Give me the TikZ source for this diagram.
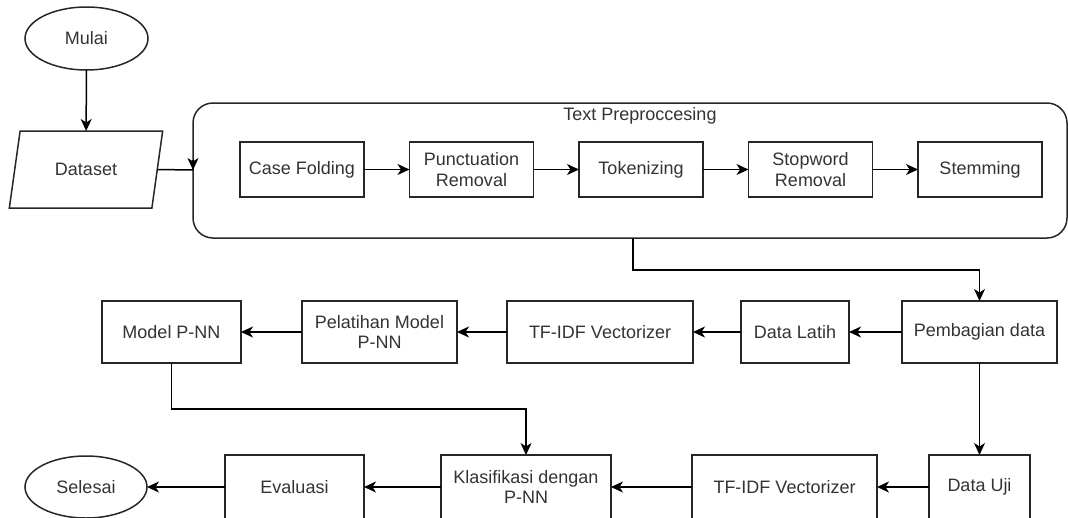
\documentclass[tikz,border=0pt]{standalone}
\usepackage{fontspec}
\setmainfont{Liberation Sans}
\usetikzlibrary{shapes.geometric,arrows.meta,calc}
\begin{document}
\begin{tikzpicture}[x=1pt,y=-1pt,
  every node/.style={font=\fontsize{18}{20.5}\selectfont, text=black!80, align=center, inner sep=0pt, outer sep=0pt},
  box/.style={draw=black!85, line width=1.5pt, rectangle},
  term/.style={draw=black!85, line width=1.5pt, ellipse},
  io/.style={draw=black!85, line width=1.5pt, trapezium, trapezium left angle=68, trapezium right angle=112, trapezium stretches=true},
  container/.style={draw=black!85, line width=1.5pt, rectangle, rounded corners=20pt},
  conn/.style={draw=black, line width=1.5pt},
  arr/.style={conn, -{Stealth[length=12pt,width=11pt,inset=3.5pt]}}
]
\useasboundingbox (0,0) rectangle (1068,517);
% top section
\node[term, minimum width=123pt, minimum height=63pt] (mulai) at (86.5,38.5) {Mulai};
\node[io, minimum width=154pt, minimum height=77pt] (dataset) at (86,169.5) {Dataset};
\node[container, minimum width=874pt, minimum height=135pt] (prep) at (630,170.5) {};
\node (preplabel) at (640,116) {Text Preproccesing};
\node[box, minimum width=124pt, minimum height=55pt] (casefold) at (302,169.5) {Case Folding};
\node[box, minimum width=124pt, minimum height=55pt] (punct) at (471.5,169.5) {Punctuation\\Removal};
\node[box, minimum width=124pt, minimum height=55pt] (token) at (641,169.5) {Tokenizing};
\node[box, minimum width=124pt, minimum height=55pt] (stop) at (810.5,169.5) {Stopword\\Removal};
\node[box, minimum width=124pt, minimum height=55pt] (stem) at (980,169.5) {Stemming};
% row 2
\node[box, minimum width=139pt, minimum height=62pt] (model) at (171.5,332) {Model P-NN};
\node[box, minimum width=155pt, minimum height=62pt] (pelat) at (379.5,332) {Pelatihan Model\\P-NN};
\node[box, minimum width=186pt, minimum height=62pt] (tfidfa) at (600,332) {TF-IDF Vectorizer};
\node[box, minimum width=108pt, minimum height=62pt] (latih) at (795,332) {Data Latih};
\node[box, minimum width=155pt, minimum height=62pt] (pemb) at (979.5,332) {Pembagian data};
% row 3
\node[term, minimum width=122pt, minimum height=62pt] (selesai) at (86,487) {Selesai};
\node[box, minimum width=139pt, minimum height=64pt] (eval) at (294.5,487) {Evaluasi};
\node[box, minimum width=170pt, minimum height=64pt] (klas) at (526,487) {Klasifikasi dengan\\P-NN};
\node[box, minimum width=185pt, minimum height=64pt] (tfidfb) at (784.5,487) {TF-IDF Vectorizer};
\node[box, minimum width=101pt, minimum height=64pt] (uji) at (979.5,487) {Data Uji};
% helper coordinates
\coordinate (c1) at (193,170);
\coordinate (j1) at (633,270);
\coordinate (j2) at (350,409);
% connectors
\draw[arr] (mulai) -- (dataset);
\draw[conn] (dataset.east) -- (c1);
\draw[arr] ([yshift=10pt]c1) -- (c1);
\draw[arr] (casefold) -- (punct);
\draw[arr] (punct) -- (token);
\draw[arr] (token) -- (stop);
\draw[arr] (stop) -- (stem);
\draw[arr] (prep.south -| j1) |- (j1) -| (pemb.north);
\draw[arr] (pemb) -- (latih);
\draw[arr] (latih) -- (tfidfa);
\draw[arr] (tfidfa) -- (pelat);
\draw[arr] (pelat) -- (model);
\draw[arr] (model.south) |- (j2) -| (klas.north);
\draw[arr] (pemb) -- (uji);
\draw[arr] (uji) -- (tfidfb);
\draw[arr] (tfidfb) -- (klas);
\draw[arr] (klas) -- (eval);
\draw[arr] (eval) -- (selesai);
\end{tikzpicture}
\end{document}
